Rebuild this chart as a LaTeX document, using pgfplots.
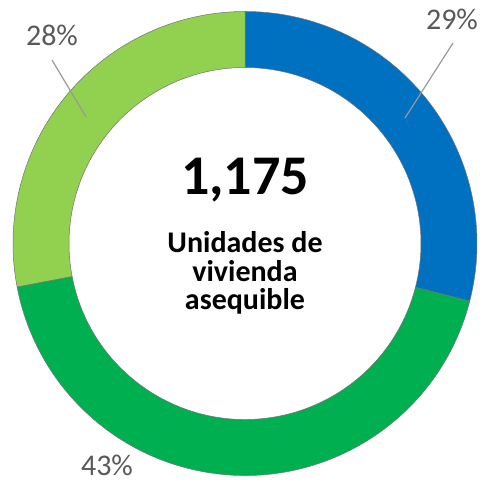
\documentclass[border=0pt]{standalone}
\usepackage{pgfplots}
\pgfplotsset{compat=1.18}
\usepackage{pgfplotstable}
\usepackage{fontspec}
\setmainfont{Carlito}
\definecolor{sblue}{HTML}{0070C0}
\definecolor{sgreen}{HTML}{00B050}
\definecolor{slgreen}{HTML}{92D050}
\definecolor{lbl}{HTML}{595959}
\pgfplotstableread{
value
29
43
28
}\slices
\begin{document}
\begin{tikzpicture}
\pgfplotstablegetelem{0}{value}\of\slices \let\va\pgfplotsretval
\pgfplotstablegetelem{1}{value}\of\slices \let\vb\pgfplotsretval
\pgfplotstablegetelem{2}{value}\of\slices \let\vc\pgfplotsretval
\pgfmathsetmacro\aA{90}
\pgfmathsetmacro\aB{90-3.6*\va}
\pgfmathsetmacro\aC{90-3.6*(\va+\vb)}
\pgfmathsetmacro\aD{90-3.6*(\va+\vb+\vc)}
\def\Ro{232bp}\def\Ri{176bp}
\begin{axis}[
  width=485bp, height=483bp, scale only axis,
  xmin=0, xmax=485, ymin=0, ymax=483,
  hide axis, clip=false,
]
\path (axis cs:0,0) rectangle (axis cs:485,483);
\foreach \s/\e/\c in {\aA/\aB/sblue, \aB/\aC/sgreen, \aC/\aD/slgreen}{
  \edef\tmp{\noexpand\filldraw[overlay, fill=\c, draw=black!55, line width=0.5bp]
   ([shift={(\s:\Ro)}]axis cs:245,239.5) arc[start angle=\s, end angle=\e, radius=\Ro]
   -- ([shift={(\e:\Ri)}]axis cs:245,239.5) arc[start angle=\e, end angle=\s, radius=\Ri] -- cycle;}
  \tmp
}
\draw[overlay, black!40, line width=1.2bp] (axis cs:52,423) -- (axis cs:86,366);
\draw[overlay, black!40, line width=1.2bp] (axis cs:453,440) -- (axis cs:405,365);
\node[overlay, lbl, font=\fontsize{30bp}{32bp}\selectfont] at (axis cs:52,448) {28\%};
\node[overlay, lbl, font=\fontsize{30bp}{32bp}\selectfont] at (axis cs:452,464) {29\%};
\node[overlay, lbl, font=\fontsize{30bp}{32bp}\selectfont] at (axis cs:107,18) {43\%};
\node[anchor=base, font=\bfseries\fontsize{56bp}{58bp}\selectfont] at (axis cs:245,288) {1,175};
\node[anchor=base, font=\bfseries\fontsize{30bp}{32bp}\selectfont] at (axis cs:245,230) {Unidades de};
\node[anchor=base, font=\bfseries\fontsize{30bp}{32bp}\selectfont] at (axis cs:245,201) {vivienda};
\node[anchor=base, font=\bfseries\fontsize{30bp}{32bp}\selectfont] at (axis cs:245,173) {asequible};
\end{axis}
\end{tikzpicture}
\end{document}
